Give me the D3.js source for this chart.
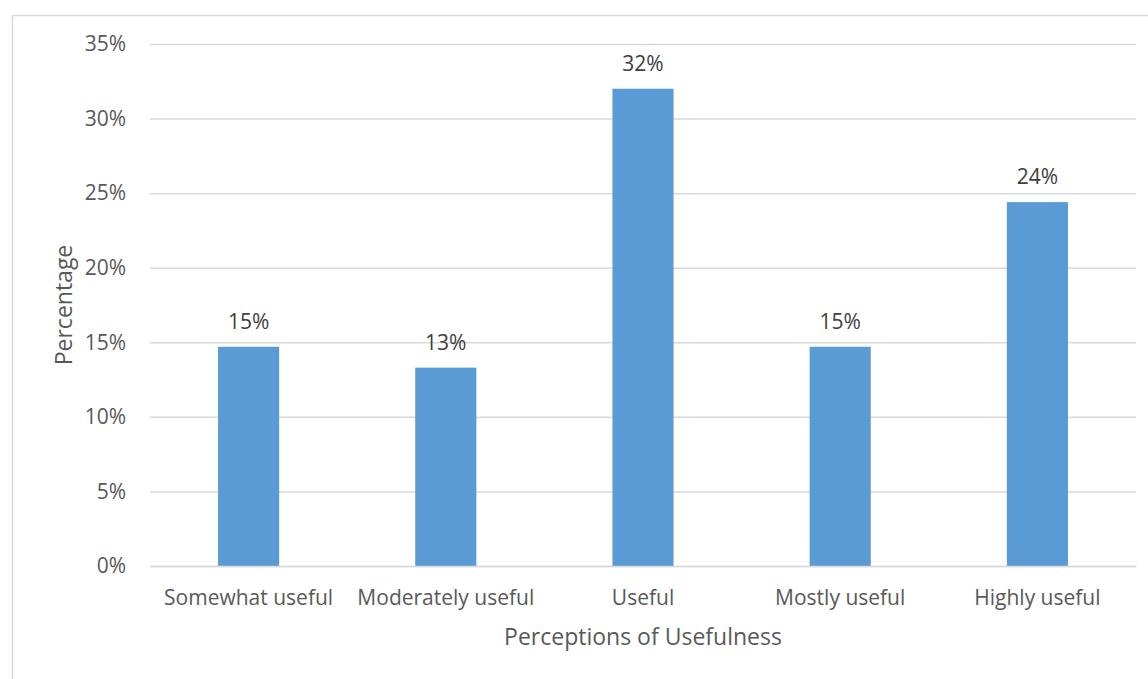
<!DOCTYPE html>
<html><head><meta charset="utf-8">
<script src="https://cdn.jsdelivr.net/npm/d3@7"></script>
<style>body{margin:0;background:#fff}svg{display:block}text{font-family:"Open Sans",sans-serif}</style>
</head><body><svg id="c" width="1148" height="679"></svg>
<script>
const categories = ["Somewhat useful","Moderately useful","Useful","Mostly useful","Highly useful"];
const values = [14.7, 13.3, 32.0, 14.7, 24.4];
const dataLabels = ["15%","13%","32%","15%","24%"];
const yTicks = [0,5,10,15,20,25,30,35];
const xTitle = "Perceptions of Usefulness";
const yTitle = "Percentage";

const svg = d3.select("#c");
const m = {l:150, r:1136, t:44, b:566};
svg.append("rect").attr("x",12.5).attr("y",15.5).attr("width",1148).attr("height",700)
  .attr("fill","#fff").attr("stroke","#d9d9d9").attr("stroke-width",1.5);

const x = d3.scaleBand().domain(categories).range([m.l,m.r]).paddingInner(0.69).paddingOuter(0.345);
const y = d3.scaleLinear().domain([0,35]).range([m.b,m.t]);

const gy = svg.append("g").attr("transform",`translate(${m.l},0)`)
  .call(d3.axisLeft(y).tickValues(yTicks).tickFormat(d=>d+"%").tickSize(-(m.r-m.l)).tickPadding(24));
gy.select(".domain").remove();
gy.selectAll("line").attr("stroke","#d9d9d9").attr("stroke-width",1.5);
gy.selectAll("text").attr("fill","#595959").style("font-size","21px").style("font-family","'Open Sans',sans-serif");

svg.selectAll("rect.bar").data(values).enter().append("rect").attr("class","bar")
  .attr("x",(d,i)=>x(categories[i])).attr("width",x.bandwidth())
  .attr("y",d=>y(d)).attr("height",d=>y(0)-y(d)).attr("fill","#5b9bd5");

svg.selectAll("text.dl").data(values).enter().append("text").attr("class","dl")
  .attr("x",(d,i)=>x(categories[i])+x.bandwidth()/2).attr("y",d=>y(d)-18)
  .attr("text-anchor","middle").attr("fill","#404040").style("font-size","21px")
  .text((d,i)=>dataLabels[i]);

const gx = svg.append("g").attr("transform",`translate(0,${m.b})`)
  .call(d3.axisBottom(x).tickSize(0).tickPadding(24));
gx.select(".domain").attr("stroke","#d9d9d9").attr("stroke-width",1.5);
gx.selectAll("text").attr("fill","#595959").style("font-size","21px").style("font-family","'Open Sans',sans-serif");

svg.append("text").attr("x",(m.l+m.r)/2).attr("y",645).attr("text-anchor","middle")
  .attr("fill","#595959").style("font-size","23px").text(xTitle);
svg.append("text").attr("transform",`translate(72,${(m.t+m.b)/2}) rotate(-90)`).attr("text-anchor","middle")
  .attr("fill","#595959").style("font-size","23px").text(yTitle);
</script></body></html>
